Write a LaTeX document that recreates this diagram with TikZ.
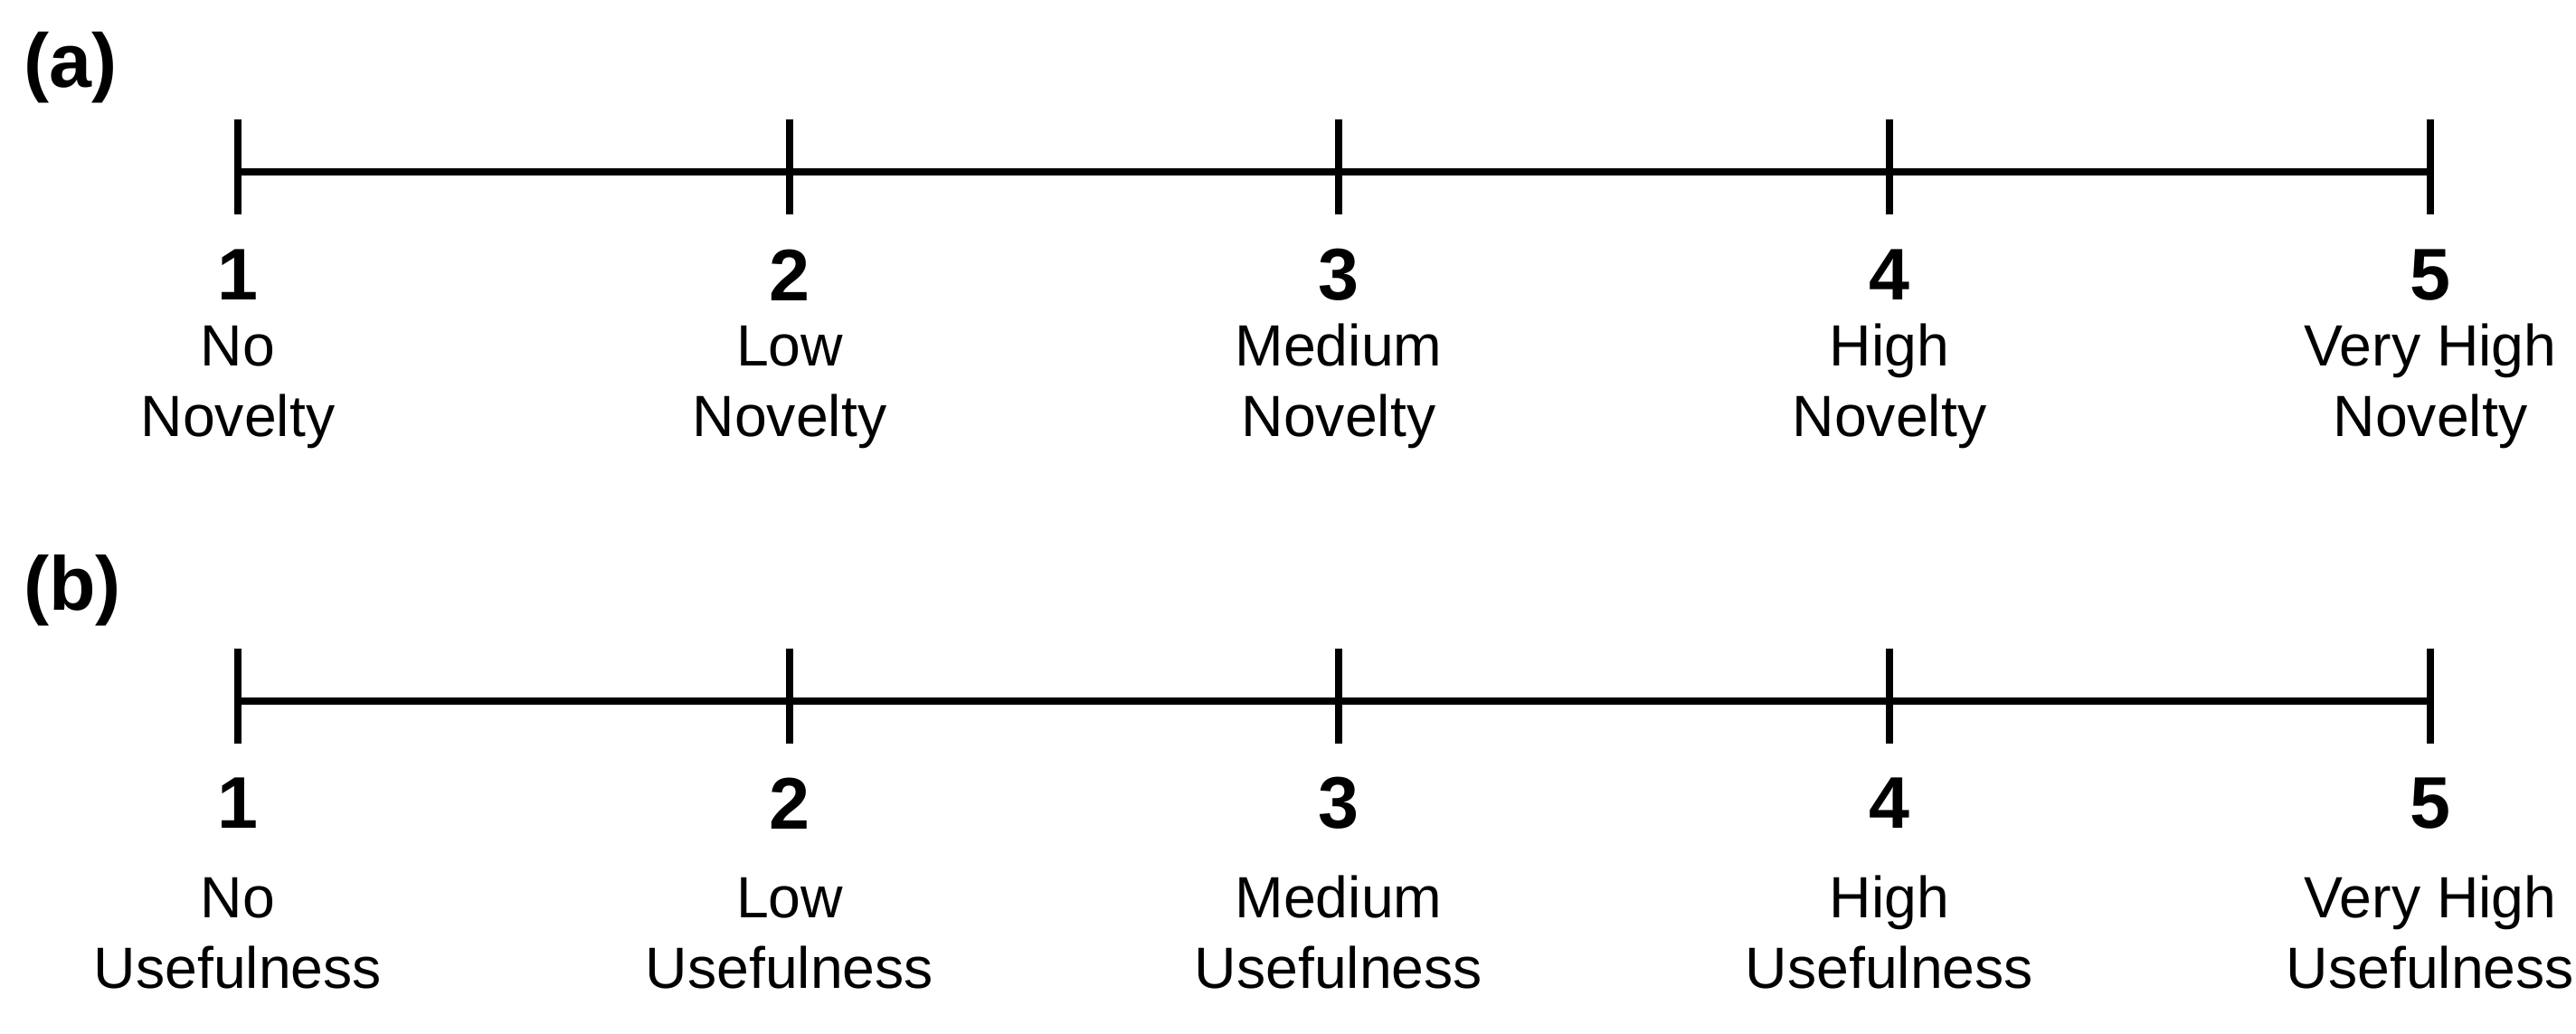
\documentclass[tikz,border=0pt]{standalone}
\usepackage{fontspec}
\setmainfont{Liberation Sans}
\begin{document}
\begin{tikzpicture}[
  scalebar/.style={line width=2.4pt},
  tickmark/.style={line width=2.4pt},
  score/.style={font=\bfseries\fontsize{23}{23}\selectfont, inner sep=0pt},
  level/.style={font=\fontsize{18.3}{22}\selectfont, align=center, inner sep=0pt, anchor=base},
  panel/.style={font=\bfseries\fontsize{24}{24}\selectfont, inner sep=0pt}]
\useasboundingbox (0,0) rectangle (28.48,-11.43);

% (a) novelty scale
\node[panel] (panel a) at (0.78,-0.75) {(a)};
\foreach \x/\name [count=\i] in {2.63/No, 8.73/Low, 14.80/Medium, 20.89/High, 26.87/Very High} {
  \coordinate (tick a \i) at (\x,-1.90);
  \draw[tickmark] (tick a \i) ++(0,0.58) -- ++(0,-1.05);
  \node[score] (score a \i) at (\x,-3.04) {\i};
  \node[level] (level a \i) at (\x,-4.82) {\name\\Novelty};
}
\draw[scalebar] (tick a 1) -- (tick a 5);

% (b) usefulness scale
\node[panel] (panel b) at (0.80,-6.53) {(b)};
\foreach \x/\name [count=\i] in {2.63/No, 8.73/Low, 14.80/Medium, 20.89/High, 26.87/Very High} {
  \coordinate (tick b \i) at (\x,-7.75);
  \draw[tickmark] (tick b \i) ++(0,0.58) -- ++(0,-1.05);
  \node[score] (score b \i) at (\x,-8.88) {\i};
  \node[level] (level b \i) at (\x,-10.92) {\name\\Usefulness};
}
\draw[scalebar] (tick b 1) -- (tick b 5);
\end{tikzpicture}
\end{document}
